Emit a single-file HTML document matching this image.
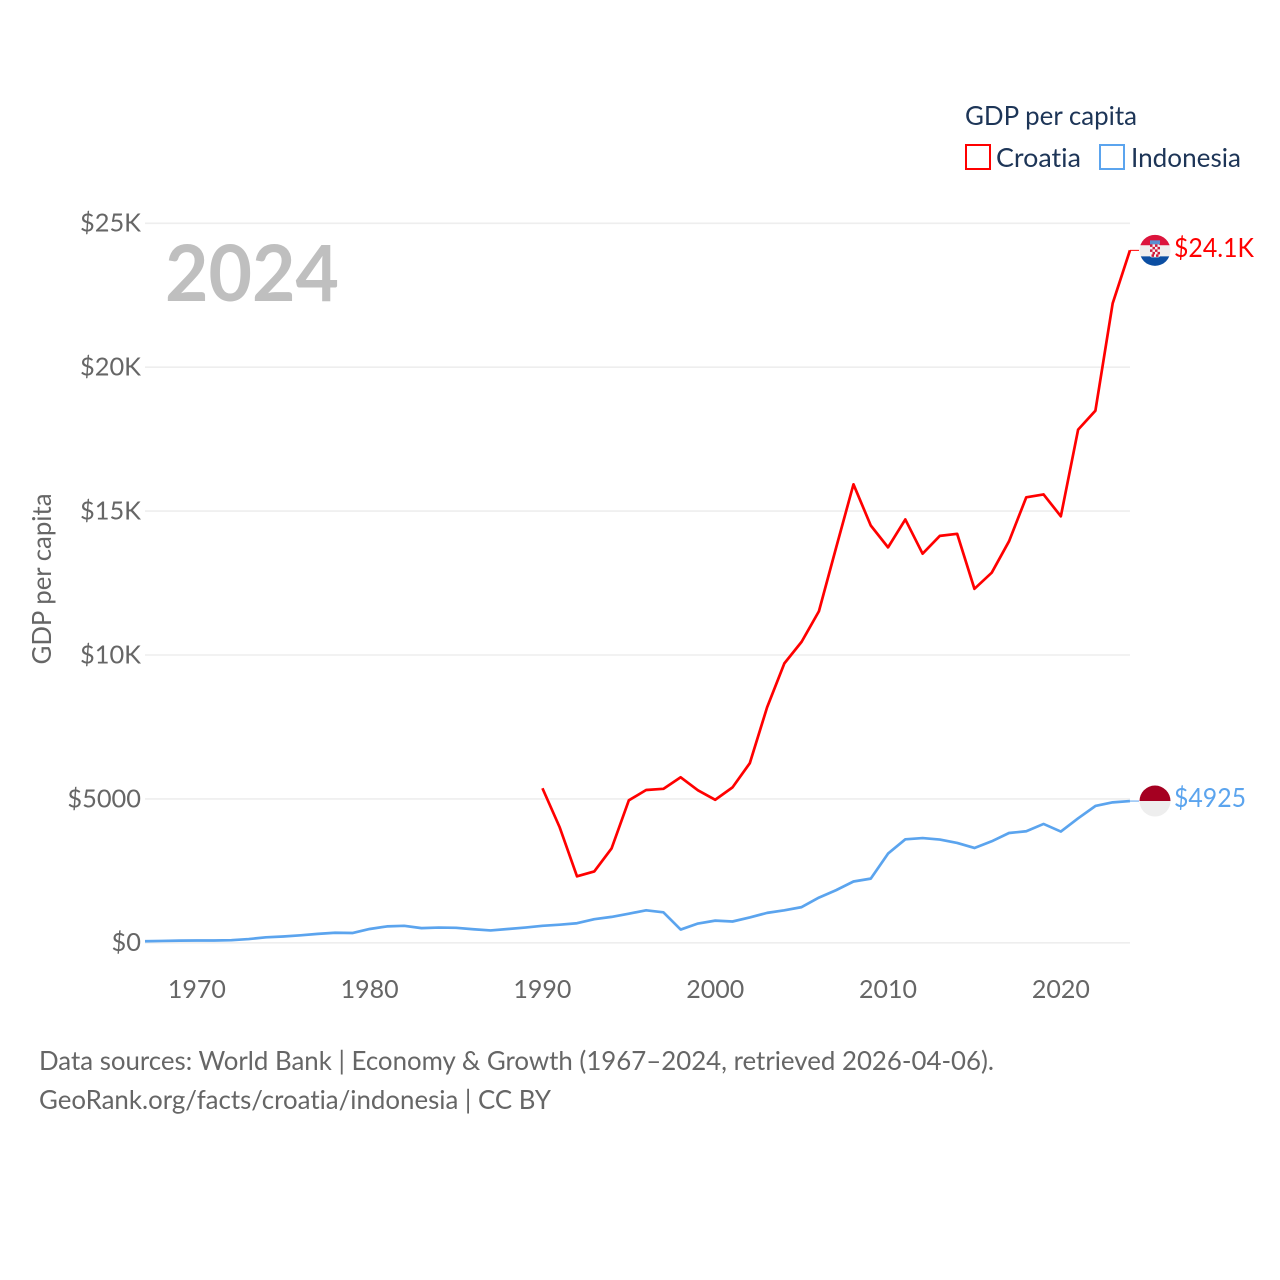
<!DOCTYPE html>
<html lang="en">
<head>
<meta charset="utf-8">
<title>GDP per capita: Croatia and Indonesia</title>
<style>
html,body{margin:0;padding:0;background:#fff;width:1280px;height:1280px;overflow:hidden}
svg{display:block}
text{font-family:"Lato","Carlito","Liberation Sans",sans-serif;font-variant-ligatures:none}
</style>
</head>
<body>
<svg id="chart" xmlns="http://www.w3.org/2000/svg" width="1280" height="1280" viewBox="0 0 1280 1280">
  <defs>
    <clipPath id="flag-clip-hr"><circle cx="0" cy="0" r="15.5"/></clipPath>
    <clipPath id="flag-clip-id"><circle cx="0" cy="0" r="15.5"/></clipPath>
  </defs>
  <g id="grid"></g>
  <g id="y-ticks"></g>
  <g id="x-ticks"></g>
  <text x="165" y="301" font-size="78" font-weight="700" fill="#bfbfbf" textLength="174" lengthAdjust="spacingAndGlyphs">2024</text>
  <text transform="translate(51,579) rotate(-90)" text-anchor="middle" font-size="26" fill="#666666" textLength="171" lengthAdjust="spacingAndGlyphs">GDP per capita</text>
  <g id="series"></g>
  <g id="flag-croatia">
    <g clip-path="url(#flag-clip-hr)">
      <rect x="-16" y="-16" width="32" height="11" fill="#dc143c"/>
      <rect x="-16" y="-5" width="32" height="11" fill="#eeeeee"/>
      <rect x="-16" y="6" width="32" height="10" fill="#0b4ea2"/>
      <rect x="-5" y="-10" width="10" height="4" fill="#5b8fd0"/>
      <rect x="-5" y="-6" width="10" height="13" rx="2" fill="#f4f4f4"/>
      <path d="M-5-6h2.500v2.500H-5zM0-6h2.500v2.500H0zM-2.500-3.500H0V-1h-2.500zM2.500-3.500H5V-1H2.500zM-5-1h2.500v2.500H-5zM0-1h2.500v2.500H0zM-2.500 1.500H0V4h-2.500zM2.500 1.500H5V4H2.500zM-3.500 4H-1v2.500h-2.500zM1 4h2.500v2.500H1z" fill="#d01c3c"/>
    </g>
  </g>
  <g id="flag-indonesia">
    <g clip-path="url(#flag-clip-id)">
      <rect x="-16" y="-16" width="32" height="16" fill="#a50021"/>
      <rect x="-16" y="0" width="32" height="16" fill="#eeeeee"/>
    </g>
  </g>
  <g id="end-labels"></g>
  <g id="legend">
    <text x="965" y="125" font-size="26" fill="#1d3557" textLength="172" lengthAdjust="spacingAndGlyphs">GDP per capita</text>
    <g>
      <rect x="966" y="145" width="24" height="24" fill="none" stroke="#ff0000" stroke-width="2"/>
      <text x="996" y="167" font-size="26" fill="#1d3557" textLength="85" lengthAdjust="spacingAndGlyphs">Croatia</text>
    </g>
    <g>
      <rect x="1100" y="145" width="24" height="24" fill="none" stroke="#5ba4ee" stroke-width="2"/>
      <text x="1131" y="167" font-size="26" fill="#1d3557" textLength="110" lengthAdjust="spacingAndGlyphs">Indonesia</text>
    </g>
  </g>
  <g>
    <text x="39" y="1070" font-size="26" fill="#666666" textLength="955" lengthAdjust="spacingAndGlyphs">Data sources: World Bank | Economy &amp; Growth (1967–2024, retrieved 2026-04-06).</text>
    <text x="39" y="1109" font-size="26" fill="#666666" textLength="512" lengthAdjust="spacingAndGlyphs">GeoRank.org/facts/croatia/indonesia | CC BY</text>
  </g>
</svg>
<script>
const years = [1967,1968,1969,1970,1971,1972,1973,1974,1975,1976,1977,1978,1979,1980,1981,1982,1983,1984,1985,1986,1987,1988,1989,1990,1991,1992,1993,1994,1995,1996,1997,1998,1999,2000,2001,2002,2003,2004,2005,2006,2007,2008,2009,2010,2011,2012,2013,2014,2015,2016,2017,2018,2019,2020,2021,2022,2023,2024];
const croatiaValues = [null,null,null,null,null,null,null,null,null,null,null,null,null,null,null,null,null,null,null,null,null,null,null,5370,4010,2310,2480,3280,4950,5310,5350,5750,5300,4970,5400,6240,8180,9710,10460,11520,13740,15930,14500,13740,14710,13520,14140,14210,12300,12860,13950,15480,15580,14820,17830,18490,22220,24060];
const indonesiaValues = [54,65,75,80,80,90,130,190,220,260,310,350,340,480,570,590,510,530,520,470,430,480,530,590,630,680,820,900,1010,1130,1060,460,670,770,740,880,1040,1130,1240,1570,1830,2130,2230,3100,3596,3640,3586,3470,3295,3527,3815,3875,4130,3865,4325,4754,4880,4925];
const yTickValues = [0,5000,10000,15000,20000,25000];
const yTickLabels = ["$0","$5000","$10K","$15K","$20K","$25K"];
const xTickValues = [1970,1980,1990,2000,2010,2020];
const croatiaEndLabel = "$24.1K";
const indonesiaEndLabel = "$4925";

const NS = "http://www.w3.org/2000/svg";
const xScale = function (year) { return 145 + (year - 1967) * 17.28; };
const yScale = function (value) { return 942.8 - value * 0.02878; };
const PLOT_LEFT = 145;
const PLOT_RIGHT = 1130;

function shape(tag, parentId, attrs) {
  const el = document.createElementNS(NS, tag);
  Object.keys(attrs).forEach(function (k) { el.setAttribute(k, attrs[k]); });
  document.getElementById(parentId).appendChild(el);
  return el;
}

yTickValues.forEach(function (v, i) {
  const y = yScale(v);
  const line = shape("line", "grid", {x1: PLOT_LEFT, x2: PLOT_RIGHT, y1: y, y2: y, stroke: "#eeeeee", "stroke-width": 1.6});
  
  
  const label = shape("text", "y-ticks", {x: 141, y: y + 8.4, "text-anchor": "end", "font-size": 25.4, fill: "#666666"});
  label.textContent = yTickLabels[i];
  
  
});

xTickValues.forEach(function (v) {
  const label = shape("text", "x-ticks", {x: xScale(v), y: 998, "text-anchor": "middle", "font-size": 25, fill: "#666666"});
  label.textContent = String(v);
  
  
});

function linePath(values) {
  let d = "";
  values.forEach(function (v, i) {
    if (v === null) { return; }
    d += (d ? "L" : "M") + xScale(years[i]).toFixed(2) + " " + yScale(v).toFixed(2);
  });
  return d;
}

const indonesiaLine = shape("path", "series", {d: linePath(indonesiaValues), fill: "none", stroke: "#5ba4ee", "stroke-width": 2.7, "stroke-linejoin": "round"});



const croatiaLine = shape("path", "series", {d: linePath(croatiaValues), fill: "none", stroke: "#ff0000", "stroke-width": 2.7, "stroke-linejoin": "round"});



const lastCroatiaY = yScale(croatiaValues[croatiaValues.length - 1]);
const lastIndonesiaY = yScale(indonesiaValues[indonesiaValues.length - 1]);

const croatiaStub = shape("line", "series", {x1: PLOT_RIGHT, x2: 1139, y1: lastCroatiaY, y2: lastCroatiaY, stroke: "#ff0000", "stroke-width": 1});



const indonesiaStub = shape("line", "series", {x1: PLOT_RIGHT, x2: 1139, y1: lastIndonesiaY, y2: lastIndonesiaY, stroke: "#5ba4ee", "stroke-width": 1});



document.getElementById("flag-croatia").setAttribute("transform", "translate(1155," + lastCroatiaY + ")");
document.getElementById("flag-indonesia").setAttribute("transform", "translate(1155," + lastIndonesiaY + ")");

const croatiaLabel = shape("text", "end-labels", {x: 1174, y: lastCroatiaY + 6.5, "font-size": 26, fill: "#ff0000", textLength: 80, lengthAdjust: "spacingAndGlyphs"});
croatiaLabel.textContent = croatiaEndLabel;



const indonesiaLabel = shape("text", "end-labels", {x: 1174, y: lastIndonesiaY + 6.0, "font-size": 26, fill: "#5ba4ee", textLength: 72, lengthAdjust: "spacingAndGlyphs"});
indonesiaLabel.textContent = indonesiaEndLabel;


</script>
</body>
</html>
